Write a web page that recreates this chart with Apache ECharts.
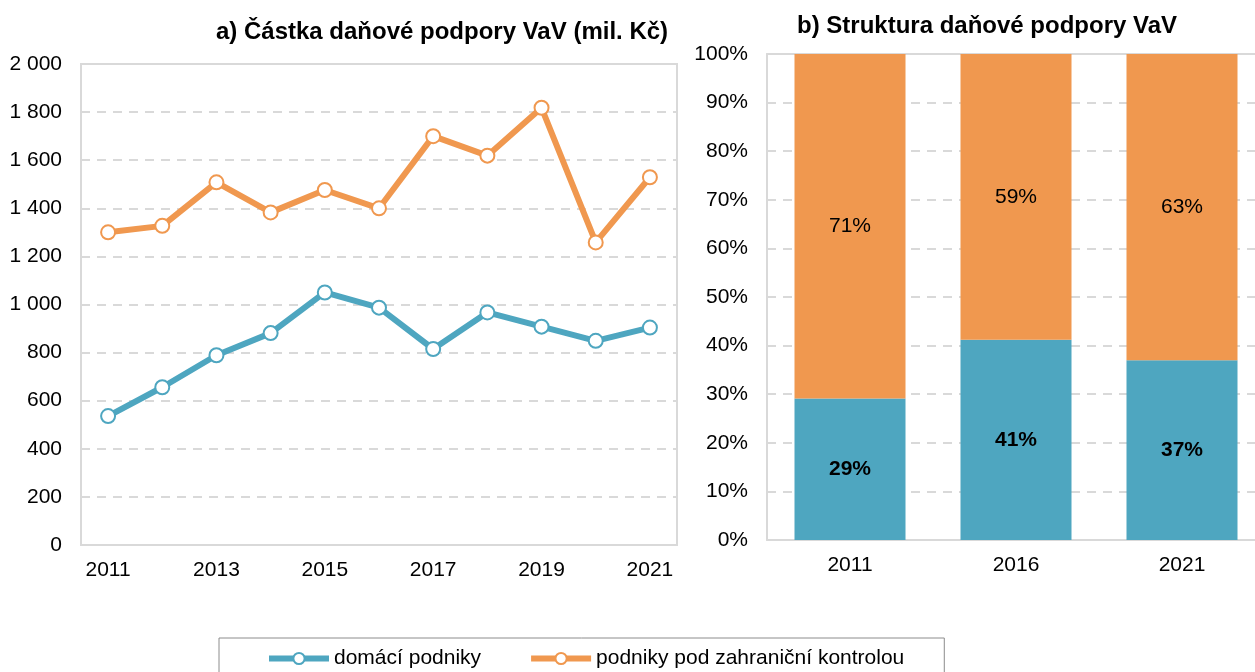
<!DOCTYPE html>
<html>
<head>
<meta charset="utf-8">
<script src="https://cdn.jsdelivr.net/npm/echarts@6/dist/echarts.min.js"></script>
<style>
  html, body { margin: 0; padding: 0; background: #fff; }
  #chart { width: 1255px; height: 672px; }
</style>
</head>
<body>
<div id="chart"></div>
<script>
  // levý graf: částka (mil. Kč)
  const years = ['2011', '2012', '2013', '2014', '2015', '2016', '2017', '2018', '2019', '2020', '2021'];
  const domaci = [536, 656, 789, 881, 1050, 987, 815, 967, 908, 849, 904];
  const zahranicni = [1300, 1327, 1508, 1383, 1476, 1400, 1700, 1619, 1818, 1258, 1529];

  // pravý graf: struktura (%)
  const barYears = ['2011', '2016', '2021'];
  const domaciPct = [29.1, 41.2, 37.0];
  const zahranicniPct = [70.9, 58.8, 63.0];

  const blue = '#4EA6C0';
  const orange = '#F0984F';
  const gridGray = '#D9D9D9';
  const font = 'Liberation Sans, Arial, sans-serif';

  const thousands = (v) => String(v).replace(/\B(?=(\d{3})+(?!\d))/g, ' ');

  const lineSeries = (name, data, color) => ({
    name: name,
    type: 'line',
    xAxisIndex: 0,
    yAxisIndex: 0,
    data: data,
    symbol: 'circle',
    symbolSize: 14,
    lineStyle: { color: color, width: 6 },
    itemStyle: { color: '#fff', borderColor: color, borderWidth: 2 },
    z: 3
  });

  const option = {
    animation: false,
    textStyle: { fontFamily: font },
    title: [
      {
        text: 'a) Částka daňové podpory VaV (mil. Kč)',
        left: 437, top: 15, textAlign: 'center',
        textStyle: { fontSize: 24, fontWeight: 'bold', color: '#000' }
      },
      {
        text: 'b) Struktura daňové podpory VaV',
        left: 982, top: 9, textAlign: 'center',
        textStyle: { fontSize: 24, fontWeight: 'bold', color: '#000' }
      }
    ],
    legend: {
      data: ['domácí podniky', 'podniky pod zahraniční kontrolou'],
      left: 219,
      top: 638,
      padding: [10, 40, 30, 47],
      itemGap: 47,
      itemWidth: 60,
      itemHeight: 14,
      borderColor: '#8C8C8C',
      borderWidth: 1,
      lineStyle: { width: 6 },
      textStyle: { fontSize: 21, color: '#000' }
    },
    grid: [
      { left: 81, top: 64, width: 596, height: 481, show: true, borderColor: gridGray, borderWidth: 2, outerBoundsMode: 'none' },
      { left: 767, top: 54, width: 498, height: 486, outerBoundsMode: 'none' }
    ],
    xAxis: [
      {
        type: 'category', gridIndex: 0, data: years, boundaryGap: true,
        axisLine: { lineStyle: { color: gridGray, width: 2 } },
        axisTick: { show: false },
        axisLabel: { interval: 1, fontSize: 21, color: '#000', margin: 15 }
      },
      {
        type: 'category', gridIndex: 1, data: barYears,
        axisLine: { lineStyle: { color: gridGray, width: 2 } },
        axisTick: { show: false },
        axisLabel: { fontSize: 21, color: '#000', margin: 15 }
      },
      {
        // horní okraj pravého grafu
        type: 'category', gridIndex: 1, data: barYears, position: 'top',
        axisLine: { lineStyle: { color: gridGray, width: 2 } },
        axisTick: { show: false },
        axisLabel: { show: false }
      }
    ],
    yAxis: [
      {
        type: 'value', gridIndex: 0, min: 0, max: 2000, interval: 200,
        axisLine: { show: true, lineStyle: { color: gridGray, width: 2 } },
        axisLabel: { fontSize: 21, color: '#000', margin: 19, formatter: thousands },
        splitLine: { lineStyle: { color: gridGray, width: 2, type: [9, 7] } }
      },
      {
        type: 'value', gridIndex: 1, min: 0, max: 100, interval: 10,
        axisLine: { show: true, lineStyle: { color: gridGray, width: 2 } },
        axisLabel: { fontSize: 21, color: '#000', margin: 19, formatter: '{value}%' },
        splitLine: { lineStyle: { color: gridGray, width: 2, type: [9, 7] } }
      }
    ],
    series: [
      lineSeries('domácí podniky', domaci, blue),
      lineSeries('podniky pod zahraniční kontrolou', zahranicni, orange),
      {
        name: 'domácí %',
        type: 'bar',
        xAxisIndex: 1,
        yAxisIndex: 1,
        stack: 'pct',
        barWidth: 111,
        data: domaciPct,
        itemStyle: { color: blue },
        label: {
          show: true, position: 'inside', fontSize: 21, fontWeight: 'bold', color: '#000',
          formatter: (p) => Math.round(p.value) + '%'
        }
      },
      {
        name: 'zahraniční %',
        type: 'bar',
        xAxisIndex: 1,
        yAxisIndex: 1,
        stack: 'pct',
        barWidth: 111,
        data: zahranicniPct,
        itemStyle: { color: orange },
        label: {
          show: true, position: 'inside', fontSize: 21, color: '#000',
          formatter: (p) => Math.round(p.value) + '%'
        }
      }
    ]
  };

  const myChart = echarts.init(document.getElementById('chart'));
  myChart.setOption(option);
</script>
</body>
</html>
